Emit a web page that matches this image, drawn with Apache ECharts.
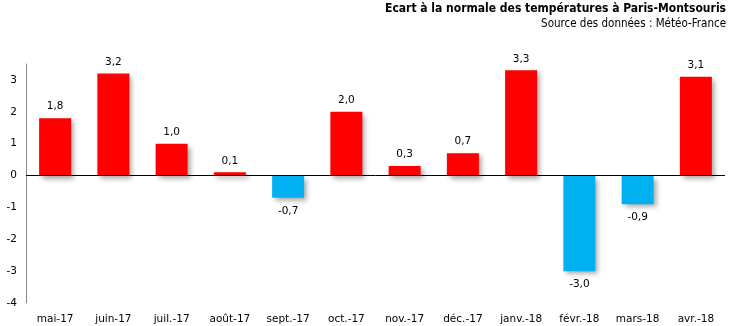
<!DOCTYPE html>
<html>
<head>
<meta charset="utf-8">
<script src="https://cdn.jsdelivr.net/npm/echarts@6/dist/echarts.min.js"></script>
<style>
  html, body { margin: 0; padding: 0; background: #fff; }
  #chart { width: 730px; height: 326px; }
</style>
</head>
<body>
<div id="chart"></div>
<script>
// Monthly temperature anomaly (°C) at Paris-Montsouris
const months = ['mai-17', 'juin-17', 'juil.-17', 'août-17', 'sept.-17', 'oct.-17',
                'nov.-17', 'déc.-17', 'janv.-18', 'févr.-18', 'mars-18', 'avr.-18'];
const anomalies = [1.8, 3.2, 1.0, 0.1, -0.7, 2.0, 0.3, 0.7, 3.3, -3.0, -0.9, 3.1];
const yTicks = [-4, -3, -2, -1, 0, 1, 2, 3];

const warmColor = '#FF0000';
const coolColor = '#00B0F0';
const fontFamily = 'DejaVu Sans, Verdana, sans-serif';

const chart = echarts.init(document.getElementById('chart'), null, { renderer: 'canvas' });

chart.setOption({
  animation: false,
  title: [{
    text: 'Ecart à la normale des températures à Paris-Montsouris',
    right: 4,
    top: 3,
    padding: 0,
    textStyle: { fontFamily: 'DejaVu Sans Condensed, sans-serif', fontWeight: 'bold', fontSize: 12, color: '#000' }
  }, {
    text: 'Source des données : Météo-France',
    right: 4,
    top: 18,
    padding: 0,
    textStyle: { fontFamily: 'DejaVu Sans Condensed, sans-serif', fontWeight: 'normal', fontSize: 11.5, color: '#000' }
  }],
  grid: { left: 26, right: 5, top: 64, bottom: 23 },
  xAxis: {
    type: 'category',
    data: months,
    axisLine: { show: false, onZero: false },
    axisTick: { show: false },
    axisLabel: { fontFamily, fontSize: 10.5, color: '#000', margin: 11, interval: 0 }
  },
  yAxis: {
    type: 'value',
    min: -4,
    max: 3.5,
    interval: 1,
    axisLine: { show: true, lineStyle: { color: '#888', width: 1 } },
    axisTick: { show: false },
    splitLine: { show: false },
    axisLabel: {
      fontFamily, fontSize: 10.5, color: '#000', margin: 9,
      formatter: v => (yTicks.includes(v) ? String(v) : '')
    }
  },
  series: [{
    type: 'bar',
    barWidth: 32,
    data: anomalies.map(v => ({
      value: v,
      itemStyle: { color: v >= 0 ? warmColor : coolColor },
      label: { position: v >= 0 ? 'top' : 'bottom', distance: v >= 0 ? 6 : 8 }
    })),
    itemStyle: {
      shadowColor: 'rgba(0,0,0,0.35)',
      shadowBlur: 5,
      shadowOffsetX: 3,
      shadowOffsetY: 3
    },
    label: {
      show: true,
      fontFamily,
      fontSize: 10.5,
      color: '#000',
      formatter: p => p.value.toFixed(1).replace('.', ',')
    },
    markLine: {
      silent: true,
      symbol: 'none',
      label: { show: false },
      lineStyle: { color: '#000', width: 1, type: 'solid' },
      data: [{ yAxis: 0 }]
    }
  }]
});
</script>
</body>
</html>
